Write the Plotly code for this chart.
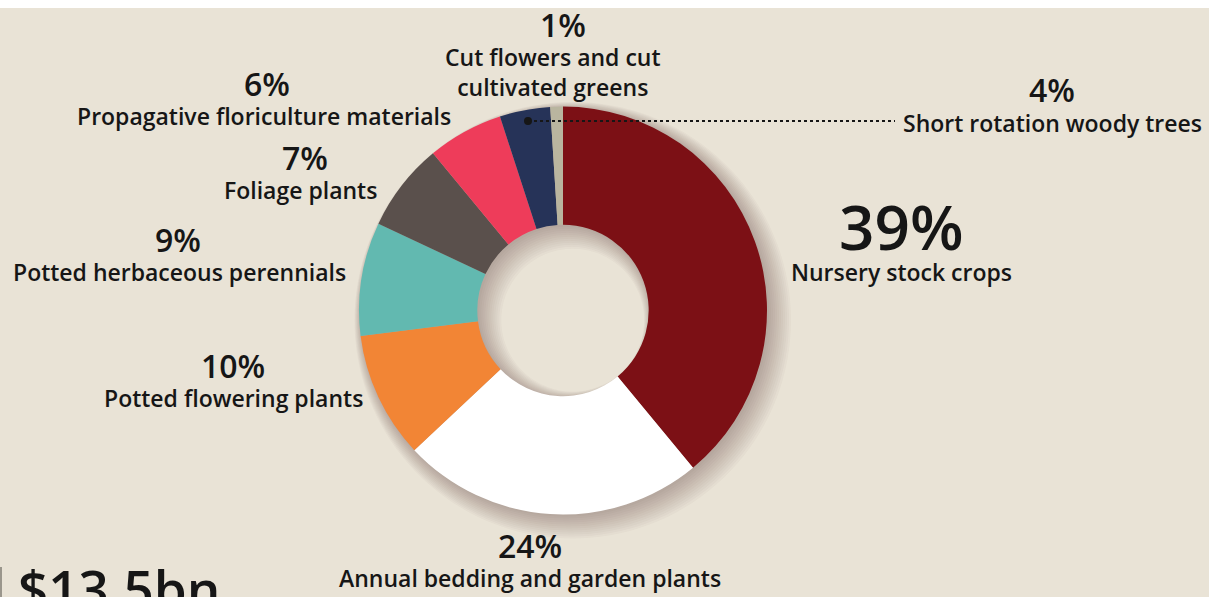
import numpy as np
import plotly.graph_objects as go

# Floriculture and nursery sales shares, clockwise from 12 o'clock
categories = [
    "Nursery stock crops",
    "Annual bedding and garden plants",
    "Potted flowering plants",
    "Potted herbaceous perennials",
    "Foliage plants",
    "Propagative floriculture materials",
    "Short rotation woody trees",
    "Cut flowers and cut cultivated greens",
]
shares = [39, 24, 10, 9, 7, 6, 4, 1]
colors = ["#7c1015", "#ffffff", "#f28535", "#62b9b0", "#5a504c", "#ee3c5a", "#263358", "#b9b59f"]

W, H = 1209, 597
BG = "#e9e3d6"
INK = "#161616"
FONT = "Open Sans"

# donut geometry (pixels)
cx, cy, R = 563, 310.5, 204
HOLE = 0.42

fig = go.Figure()

fig.add_trace(go.Pie(
    labels=categories,
    values=shares,
    marker=dict(colors=colors, line=dict(width=0)),
    sort=False,
    direction="clockwise",
    rotation=0,
    hole=HOLE,
    textinfo="none",
    hoverinfo="skip",
    showlegend=False,
    domain=dict(x=[(cx - R) / W, (cx + R) / W],
                y=[(H - cy - R) / H, (H - cy + R) / H]),
))


def circle_path(x0, y0, r, n=140):
    t = np.linspace(0, 2 * np.pi, n, endpoint=False)
    pts = [f"{x0 + r * np.cos(a):.2f},{y0 + r * np.sin(a):.2f}" for a in t]
    return "M" + " L".join(pts) + " Z"


# soft drop shadow: stacked, offset ring silhouettes behind the donut
shapes = []
for k in range(12):
    off = 2 + k * 0.7
    grow = k * 1.3
    ring = circle_path(cx + off, cy + off, R + grow) + " " + \
        circle_path(cx + off, cy + off, max(R * HOLE - grow, 1))
    shapes.append(dict(type="path", xref="x", yref="y", path=ring,
                       fillcolor="rgba(60,45,20,0.028)", line=dict(width=0),
                       fillrule="evenodd", layer="below"))

# white strip at the very top
shapes.append(dict(type="rect", xref="paper", yref="y", x0=0, x1=1, y0=0, y1=8,
                   fillcolor="#ffffff", line=dict(width=0), layer="below"))
# dotted leader for the small navy slice
shapes.append(dict(type="line", xref="x", yref="y", x0=528, x1=895, y0=121, y1=121,
                   line=dict(color=INK, width=2.2, dash="dot"), layer="above"))
shapes.append(dict(type="circle", xref="x", yref="y", x0=524, x1=532, y0=117, y1=125,
                   fillcolor=INK, line=dict(width=0), layer="above"))
# thin rule at the bottom-left edge
shapes.append(dict(type="rect", xref="x", yref="y", x0=0, x1=2, y0=567, y1=597,
                   fillcolor="#9a968c", line=dict(width=0), layer="above"))

fig.update_layout(shapes=shapes)

# percent / label positions (pixel centres)
pct_text = ["39%", "24%", "10%", "9%", "7%", "6%", "4%", "1%"]
pct_pos = [(901, 226), (530, 545), (233, 365), (178, 239), (305, 157), (267, 83), (1052, 89), (563, 24)]
pct_size = [62, 32, 32, 32, 32, 32, 32, 32]
lab_text = [
    "Nursery stock crops",
    "Annual bedding and garden plants",
    "Potted flowering plants",
    "Potted herbaceous perennials",
    "Foliage plants",
    "Propagative floriculture materials",
    "Short rotation woody trees",
    "Cut flowers and cut<br>cultivated greens",
]
lab_pos = [(901, 272), (530, 578), (233, 398), (179, 272), (300, 190), (264, 116), (1052, 123), (553, 72)]

ann = []
for t, (x, y), s in zip(pct_text, pct_pos, pct_size):
    ann.append(dict(text=t, x=x, y=y, xref="x", yref="y", showarrow=False,
                    xanchor="center", yanchor="middle",
                    font=dict(family=FONT, size=s, color=INK, weight=600)))
for t, (x, y) in zip(lab_text, lab_pos):
    ann.append(dict(text=t, x=x, y=y, xref="x", yref="y", showarrow=False,
                    xanchor="center", yanchor="middle", align="center",
                    font=dict(family=FONT, size=23, color=INK, weight=600)))

ann.append(dict(text="$13.5bn", x=16, y=550, xref="x", yref="y", showarrow=False,
                xanchor="left", yanchor="top",
                font=dict(family=FONT, size=53, color=INK, weight=600)))

fig.update_layout(
    annotations=ann,
    width=W, height=H,
    margin=dict(l=0, r=0, t=0, b=0),
    paper_bgcolor=BG, plot_bgcolor=BG,
    xaxis=dict(range=[0, W], visible=False, fixedrange=True),
    yaxis=dict(range=[H, 0], visible=False, fixedrange=True),
    showlegend=False,
)

fig.write_html("out.html", config=dict(displayModeBar=False))
